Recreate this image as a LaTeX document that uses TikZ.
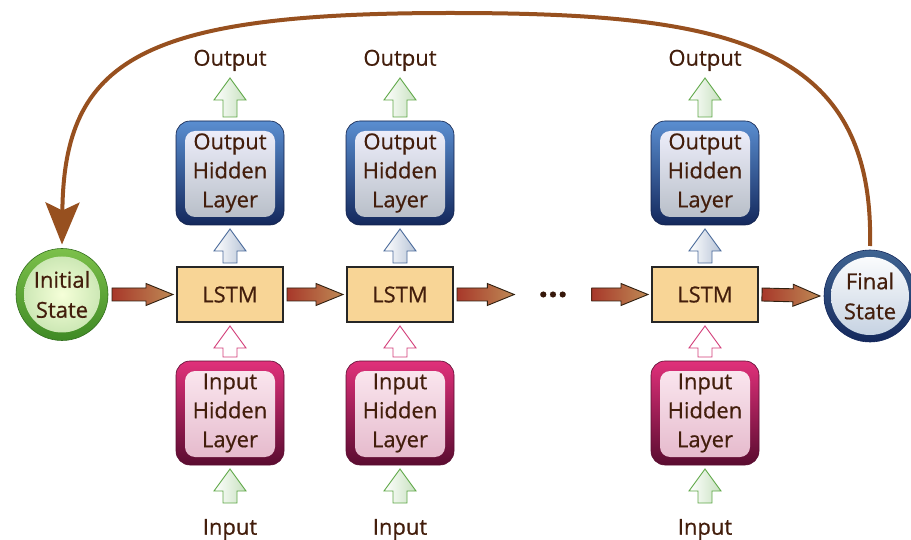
\documentclass[tikz,border=0pt]{standalone}
\usepackage{fontspec}
\setmainfont{Open Sans}[FakeBold=0.6]
\usetikzlibrary{positioning,calc,arrows.meta}

\definecolor{txtbrown}{HTML}{431E0C}
\definecolor{curvebrown}{HTML}{97501F}
\definecolor{lstmfill}{HTML}{F8D596}
\definecolor{ohtop}{HTML}{5A8ED0}
\definecolor{ohbot}{HTML}{14285C}
\definecolor{ihtop}{HTML}{E0307A}
\definecolor{ihbot}{HTML}{5A0C30}
\definecolor{ringtop}{HTML}{7CC04A}
\definecolor{ringbot}{HTML}{3F8A25}
\definecolor{arrgreen}{HTML}{5FA848}
\definecolor{arrblue}{HTML}{4A6A9A}
\definecolor{arrpink}{HTML}{D23C78}
\definecolor{flowred}{HTML}{A8382A}
\definecolor{flowtan}{HTML}{BE8A55}

\tikzset{
  lbl/.style={inner sep=0pt, outer sep=7pt, text=txtbrown, font=\fontsize{22}{29}\selectfont},
  inlbl/.style={lbl, outer sep=16pt},
  lstm/.style={draw=black!85, line width=1.2pt, fill=lstmfill, minimum width=106pt,
    minimum height=55pt, outer sep=4pt, text=txtbrown, font=\fontsize{22}{29}\selectfont},
  hidbox/.style={rounded corners=14pt, minimum width=108pt, minimum height=104pt, inner sep=0pt,
    outer sep=4pt, align=center, text=txtbrown, font=\fontsize{22}{29}\selectfont},
  ohid/.style={hidbox, top color=ohtop, bottom color=ohbot, draw=ohbot!80!black, line width=0.6pt,
    path picture={\shade[rounded corners=10pt, top color=white!95!blue, bottom color=ohtop!25!gray!55]
      ([shift={(9pt,-10pt)}]path picture bounding box.north west) rectangle
      ([shift={(-9pt,8pt)}]path picture bounding box.south east);}},
  ihid/.style={hidbox, top color=ihtop, bottom color=ihbot, draw=ihbot, line width=0.6pt,
    path picture={\shade[rounded corners=10pt, top color=white!90!ihtop, bottom color=ihtop!30!white!85!gray]
      ([shift={(9pt,-10pt)}]path picture bounding box.north west) rectangle
      ([shift={(-9pt,8pt)}]path picture bounding box.south east);}},
  state/.style={circle, minimum size=92pt, inner sep=0pt, outer sep=4pt, align=center,
    text=txtbrown, font=\fontsize{22}{30}\selectfont, line width=0.6pt},
  initstate/.style={state, top color=ringtop, bottom color=ringbot, draw=ringbot!80!black,
    path picture={\shade[inner color=white!85!lime, outer color=ringtop!45!white]
      (path picture bounding box.center) circle (38pt);}},
  finalstate/.style={state, top color=ohtop!70!black, bottom color=ohbot, draw=ohbot,
    path picture={\shade[top color=white, bottom color=ohtop!30!white!85!gray]
      (path picture bounding box.center) circle (39pt);}},
  dotsnode/.style={inner sep=0pt, minimum width=77pt, text=txtbrown!80!black,
    font=\fontsize{34}{34}\selectfont\bfseries},
  fat/.style n args={3}{to path={let \p1=(\tikztostart), \p2=(\tikztotarget),
      \p3=($(\p2)!#3!(\p1)$) in
    ($(\p1)!#1!90:(\p2)$) -- ($(\p3)!#1!90:(\p2)$) -- ($(\p3)!#2!90:(\p2)$) -- (\p2)
    -- ($(\p3)!#2!-90:(\p2)$) -- ($(\p3)!#1!-90:(\p2)$) -- ($(\p1)!#1!-90:(\p2)$) -- cycle}},
  greenarrow/.style={fat={7pt}{16pt}{22pt}, draw=arrgreen, line width=0.9pt,
    left color=white, right color=arrgreen!35!white},
  bluearrow/.style={fat={7pt}{16pt}{22pt}, draw=arrblue, line width=0.9pt,
    left color=white, right color=arrblue!40!white},
  pinkarrow/.style={fat={7pt}{16pt}{22pt}, draw=arrpink, line width=0.9pt, fill=white},
  flowarrow/.style={fat={6.5pt}{11pt}{27pt}, draw=black!75!brown, line width=0.9pt,
    left color=flowred, right color=flowtan},
  looparrow/.style={draw=curvebrown, line width=4pt,
    -{Stealth[length=42pt, width=34pt, inset=8pt]}}
}

\begin{document}
\begin{tikzpicture}[x=1pt, y=1pt]

\useasboundingbox (0,0) rectangle (911,-540);

% define nodes

% states
\node[initstate] (init) at (62,-294.5) {Initial\\State};
\node[finalstate] (final) at (870,-296) {Final\\State};

% lstm cells
\node[lstm] (l1) at (230,-294.5) {LSTM};
\node[lstm, right=56pt of l1] (l2) {LSTM};
\node[dotsnode] (dots) at (553,-294.5) {...};
\node[lstm] (l3) at (705,-294.5) {LSTM};

% output hidden layers
\node[ohid, above=34pt of l1] (oh1) {Output\\Hidden\\Layer};
\node[ohid, above=34pt of l2] (oh2) {Output\\Hidden\\Layer};
\node[ohid, above=34pt of l3] (oh3) {Output\\Hidden\\Layer};

% input hidden layers
\node[ihid, below=31pt of l1] (ih1) {Input\\Hidden\\Layer};
\node[ihid, below=31pt of l2] (ih2) {Input\\Hidden\\Layer};
\node[ihid, below=31pt of l3] (ih3) {Input\\Hidden\\Layer};

% outputs and inputs
\node[lbl, above=39pt of oh1] (out1) {Output};
\node[lbl, above=39pt of oh2] (out2) {Output};
\node[lbl, above=39pt of oh3] (out3) {Output};
\node[inlbl, below=34pt of ih1] (in1) {Input};
\node[inlbl, below=34pt of ih2] (in2) {Input};
\node[inlbl, below=34pt of ih3] (in3) {Input};

% edges

\draw[flowarrow] (init.east) to (l1.west);
\draw[flowarrow] (l1.east) to (l2.west);
\draw[flowarrow] (l2.east) to (dots.west);
\draw[flowarrow] (dots.east) to (l3.west);
\draw[flowarrow] (l3.east) to (final.west);

\draw[greenarrow] (in1.north) to (ih1.south);
\draw[greenarrow] (in2.north) to (ih2.south);
\draw[greenarrow] (in3.north) to (ih3.south);

\draw[pinkarrow] (ih1.north) to (l1.south);
\draw[pinkarrow] (ih2.north) to (l2.south);
\draw[pinkarrow] (ih3.north) to (l3.south);

\draw[bluearrow] (l1.north) to (oh1.south);
\draw[bluearrow] (l2.north) to (oh2.south);
\draw[bluearrow] (l3.north) to (oh3.south);

\draw[greenarrow] (oh1.north) to (out1.south);
\draw[greenarrow] (oh2.north) to (out2.south);
\draw[greenarrow] (oh3.north) to (out3.south);

% feedback

\draw[looparrow] (final.north) .. controls (875,-40) and (720,-13) .. (450,-13)
  .. controls (140,-13) and (64,-60) .. (init.north);

\end{tikzpicture}
\end{document}
